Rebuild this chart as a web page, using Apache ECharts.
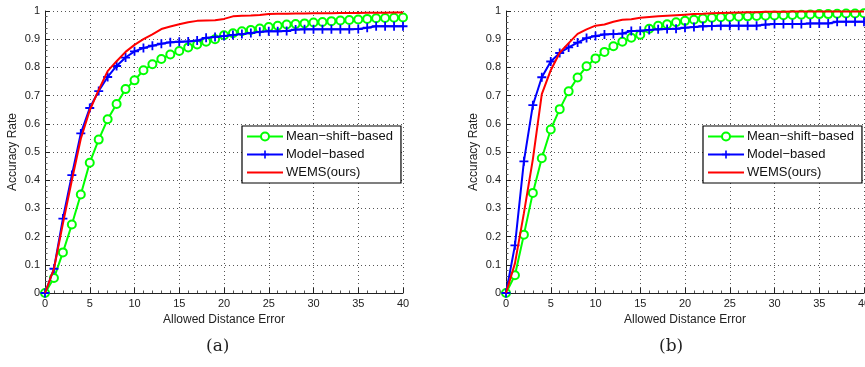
<!DOCTYPE html>
<html>
<head>
<meta charset="utf-8">
<script src="https://cdn.jsdelivr.net/npm/echarts@6/dist/echarts.min.js"></script>
<style>
  html, body { margin: 0; padding: 0; background: #fff; }
  #chart { width: 865px; height: 367px; }
</style>
</head>
<body>
<div id="chart"></div>
<script>
// allowed distance error (x) shared by both panels
const distances = [0, 1, 2, 3, 4, 5, 6, 7, 8, 9, 10, 11, 12, 13, 14, 15, 16, 17, 18, 19, 20,
  21, 22, 23, 24, 25, 26, 27, 28, 29, 30, 31, 32, 33, 34, 35, 36, 37, 38, 39, 40];

const seriesNames = ['Mean\u2212shift\u2212based', 'Model\u2212based', 'WEMS(ours)'];

// panel (a)
const meanShiftA = [0, 0.053, 0.144, 0.243, 0.349, 0.462, 0.544, 0.616, 0.670, 0.723, 0.754,
  0.790, 0.811, 0.830, 0.846, 0.858, 0.871, 0.881, 0.891, 0.900, 0.914,
  0.921, 0.928, 0.933, 0.938, 0.943, 0.948, 0.952, 0.954, 0.956, 0.959,
  0.961, 0.964, 0.966, 0.968, 0.970, 0.972, 0.974, 0.975, 0.976, 0.977];
const modelA = [0, 0.086, 0.264, 0.418, 0.566, 0.656, 0.716, 0.766, 0.805, 0.835, 0.857,
  0.869, 0.877, 0.884, 0.889, 0.891, 0.892, 0.895, 0.905, 0.908, 0.911,
  0.915, 0.918, 0.922, 0.926, 0.928, 0.928, 0.929, 0.934, 0.935, 0.935,
  0.935, 0.935, 0.935, 0.935, 0.936, 0.941, 0.946, 0.946, 0.946, 0.946];
const wemsA = [0, 0.086, 0.246, 0.400, 0.547, 0.648, 0.720, 0.787, 0.822, 0.855, 0.880,
  0.900, 0.917, 0.936, 0.945, 0.953, 0.960, 0.965, 0.966, 0.967, 0.972,
  0.981, 0.983, 0.984, 0.986, 0.989, 0.990, 0.990, 0.991, 0.991, 0.992,
  0.992, 0.992, 0.993, 0.993, 0.993, 0.994, 0.994, 0.994, 0.995, 0.995];

// panel (b)
const meanShiftB = [0, 0.063, 0.207, 0.355, 0.478, 0.580, 0.652, 0.715, 0.764, 0.804, 0.832,
  0.855, 0.875, 0.891, 0.905, 0.916, 0.937, 0.948, 0.953, 0.960, 0.965,
  0.969, 0.973, 0.976, 0.978, 0.979, 0.980, 0.981, 0.982, 0.983, 0.984,
  0.985, 0.986, 0.987, 0.988, 0.989, 0.989, 0.990, 0.991, 0.991, 0.992];
const modelB = [0, 0.169, 0.467, 0.666, 0.765, 0.821, 0.851, 0.871, 0.888, 0.904, 0.911,
  0.917, 0.918, 0.920, 0.929, 0.930, 0.933, 0.935, 0.936, 0.937, 0.941,
  0.943, 0.946, 0.947, 0.948, 0.948, 0.948, 0.948, 0.948, 0.952, 0.954,
  0.954, 0.954, 0.954, 0.956, 0.956, 0.956, 0.962, 0.962, 0.962, 0.962];
const wemsB = [0, 0.105, 0.283, 0.474, 0.705, 0.790, 0.852, 0.886, 0.919, 0.935, 0.948,
  0.952, 0.962, 0.969, 0.971, 0.976, 0.979, 0.981, 0.983, 0.985, 0.987,
  0.989, 0.990, 0.992, 0.993, 0.994, 0.995, 0.996, 0.996, 0.997, 0.997,
  0.997, 0.998, 0.998, 0.998, 0.998, 0.998, 0.998, 0.998, 0.998, 0.998];

const panels = [
  { left: 45, caption: '(a)', captionLeft: 206, legendLeft: 242, data: [meanShiftA, modelA, wemsA] },
  { left: 506, caption: '(b)', captionLeft: 659, legendLeft: 703, data: [meanShiftB, modelB, wemsB] }
];

const plusPath = 'path://M4,0H6V4H10V6H6V10H4V6H0V4H4Z';
const font = 'Liberation Sans, Arial, sans-serif';

const pairs = arr => distances.map((d, i) => [d, arr[i]]);

const axisCommon = {
  axisLine: { show: true, lineStyle: { color: '#222', width: 1 } },
  axisTick: { show: true, inside: true, length: 5, lineStyle: { color: '#222' } },
  minorTick: { show: true, splitNumber: 5, length: 2.5, lineStyle: { color: '#555' } },
  splitLine: { show: true, lineStyle: { color: '#555', type: [1, 3], width: 1 } },
  axisLabel: { color: '#222', fontFamily: font, fontSize: 11, margin: 5 },
  nameTextStyle: { color: '#222', fontFamily: font, fontSize: 12 }
};

const grids = [], xAxes = [], yAxes = [], series = [], legends = [], graphics = [];
panels.forEach((p, k) => {
  grids.push({ left: p.left, top: 11, width: 358, height: 282, outerBoundsMode: 'none' });
  xAxes.push(Object.assign({}, axisCommon, {
    type: 'value', gridIndex: k, min: 0, max: 40, interval: 5,
    name: 'Allowed Distance Error', nameLocation: 'middle', nameGap: 18
  }));
  yAxes.push(Object.assign({}, axisCommon, {
    type: 'value', gridIndex: k, min: 0, max: 1, interval: 0.1,
    name: 'Accuracy Rate', nameLocation: 'middle', nameGap: 26, nameRotate: 90
  }));
  series.push({
    name: seriesNames[0], type: 'line', xAxisIndex: k, yAxisIndex: k, z: 2,
    data: pairs(p.data[0]), symbol: 'emptyCircle', symbolSize: 8,
    lineStyle: { color: '#00ff00', width: 2 },
    itemStyle: { color: '#00ff00', borderColor: '#00ff00', borderWidth: 1.6 }
  });
  series.push({
    name: seriesNames[1], type: 'line', xAxisIndex: k, yAxisIndex: k, z: 3,
    data: pairs(p.data[1]), symbol: plusPath, symbolSize: 9,
    lineStyle: { color: '#0000ff', width: 2 },
    itemStyle: { color: '#0000ff', borderWidth: 0 }
  });
  series.push({
    name: seriesNames[2], type: 'line', xAxisIndex: k, yAxisIndex: k, z: 4,
    data: pairs(p.data[2]), symbol: 'none',
    lineStyle: { color: '#ff0000', width: 2 },
    itemStyle: { color: '#ff0000' }
  });
  legends.push({
    data: [seriesNames[0], seriesNames[1], { name: seriesNames[2], itemStyle: { opacity: 0 } }],
    orient: 'vertical', left: p.legendLeft, top: 126,
    width: 155, itemWidth: 36, itemHeight: 10, itemGap: 5,
    padding: [4, 8, 4, 4], backgroundColor: '#fff',
    borderColor: '#000', borderWidth: 1.2, selectedMode: false,
    textStyle: { color: '#111', fontFamily: font, fontSize: 13, padding: [0, 0, 0, -2] }
  });
  graphics.push({
    type: 'text', left: p.captionLeft, top: 338,
    style: { text: p.caption, font: '17px "DejaVu Serif", serif', fill: '#222' }
  });
});

const chart = echarts.init(document.getElementById('chart'));
chart.setOption({
  animation: false,
  backgroundColor: '#fff',
  grid: grids,
  xAxis: xAxes,
  yAxis: yAxes,
  legend: legends,
  series: series,
  graphic: graphics
});
</script>
</body>
</html>
